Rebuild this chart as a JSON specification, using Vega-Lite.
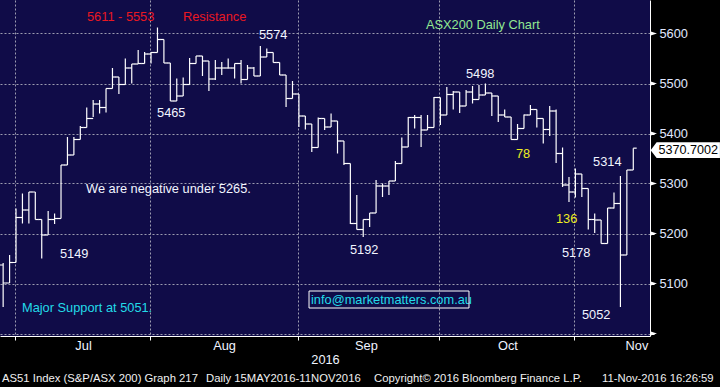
{
  "$schema": "https://vega.github.io/schema/vega-lite/v6.json",
  "width": 650,
  "height": 336,
  "autosize": {"type": "none"},
  "padding": {"left": 0, "top": 0, "right": 70, "bottom": 51},
  "background": "#000000",
  "config": {
    "view": {"stroke": null, "fill": "#100c48"},
    "font": "Liberation Sans"
  },
  "datasets": {
    "ohlc": [
      {"day": -2, "date": "2016-06-28", "open": 5137, "high": 5141, "low": 5053, "close": 5101},
      {"day": -1, "date": "2016-06-29", "open": 5101, "high": 5157, "low": 5101, "close": 5142},
      {"day": 0, "date": "2016-06-30", "open": 5142, "high": 5250, "low": 5142, "close": 5232},
      {"day": 1, "date": "2016-07-01", "open": 5232, "high": 5280, "low": 5220, "close": 5247},
      {"day": 2, "date": "2016-07-04", "open": 5247, "high": 5283, "low": 5220, "close": 5283},
      {"day": 3, "date": "2016-07-05", "open": 5283, "high": 5283, "low": 5228, "close": 5228},
      {"day": 4, "date": "2016-07-06", "open": 5228, "high": 5228, "low": 5150, "close": 5197},
      {"day": 5, "date": "2016-07-07", "open": 5197, "high": 5245, "low": 5197, "close": 5228},
      {"day": 6, "date": "2016-07-08", "open": 5228, "high": 5240, "low": 5219, "close": 5230},
      {"day": 7, "date": "2016-07-11", "open": 5230, "high": 5337, "low": 5230, "close": 5337},
      {"day": 8, "date": "2016-07-12", "open": 5337, "high": 5393, "low": 5337, "close": 5357},
      {"day": 9, "date": "2016-07-13", "open": 5357, "high": 5393, "low": 5357, "close": 5388},
      {"day": 10, "date": "2016-07-14", "open": 5388, "high": 5415, "low": 5388, "close": 5412},
      {"day": 11, "date": "2016-07-15", "open": 5412, "high": 5452, "low": 5412, "close": 5430},
      {"day": 12, "date": "2016-07-18", "open": 5430, "high": 5467, "low": 5433, "close": 5459},
      {"day": 13, "date": "2016-07-19", "open": 5459, "high": 5467, "low": 5440, "close": 5452},
      {"day": 14, "date": "2016-07-20", "open": 5452, "high": 5490, "low": 5442, "close": 5490},
      {"day": 15, "date": "2016-07-21", "open": 5490, "high": 5531, "low": 5490, "close": 5513},
      {"day": 16, "date": "2016-07-22", "open": 5513, "high": 5513, "low": 5479, "close": 5498},
      {"day": 17, "date": "2016-07-25", "open": 5498, "high": 5550, "low": 5498, "close": 5531},
      {"day": 18, "date": "2016-07-26", "open": 5531, "high": 5539, "low": 5500, "close": 5539},
      {"day": 19, "date": "2016-07-27", "open": 5539, "high": 5567, "low": 5539, "close": 5540},
      {"day": 20, "date": "2016-07-28", "open": 5540, "high": 5563, "low": 5540, "close": 5559},
      {"day": 21, "date": "2016-07-29", "open": 5559, "high": 5563, "low": 5540, "close": 5562},
      {"day": 22, "date": "2016-08-01", "open": 5562, "high": 5612, "low": 5562, "close": 5588},
      {"day": 23, "date": "2016-08-02", "open": 5588, "high": 5588, "low": 5541, "close": 5541},
      {"day": 24, "date": "2016-08-03", "open": 5541, "high": 5541, "low": 5465, "close": 5465},
      {"day": 25, "date": "2016-08-04", "open": 5465, "high": 5510, "low": 5465, "close": 5475},
      {"day": 26, "date": "2016-08-05", "open": 5475, "high": 5512, "low": 5475, "close": 5498},
      {"day": 27, "date": "2016-08-08", "open": 5498, "high": 5551, "low": 5498, "close": 5540},
      {"day": 28, "date": "2016-08-09", "open": 5540, "high": 5555, "low": 5540, "close": 5555},
      {"day": 29, "date": "2016-08-10", "open": 5555, "high": 5555, "low": 5515, "close": 5545},
      {"day": 30, "date": "2016-08-11", "open": 5545, "high": 5545, "low": 5485, "close": 5509},
      {"day": 31, "date": "2016-08-12", "open": 5509, "high": 5547, "low": 5507, "close": 5531},
      {"day": 32, "date": "2016-08-15", "open": 5531, "high": 5543, "low": 5517, "close": 5531},
      {"day": 33, "date": "2016-08-16", "open": 5531, "high": 5550, "low": 5530, "close": 5531},
      {"day": 34, "date": "2016-08-17", "open": 5531, "high": 5540, "low": 5510, "close": 5540},
      {"day": 35, "date": "2016-08-18", "open": 5540, "high": 5547, "low": 5500, "close": 5508},
      {"day": 36, "date": "2016-08-19", "open": 5508, "high": 5537, "low": 5508, "close": 5531},
      {"day": 37, "date": "2016-08-22", "open": 5531, "high": 5533, "low": 5515, "close": 5515},
      {"day": 38, "date": "2016-08-23", "open": 5515, "high": 5575, "low": 5515, "close": 5553},
      {"day": 39, "date": "2016-08-24", "open": 5553, "high": 5570, "low": 5553, "close": 5562},
      {"day": 40, "date": "2016-08-25", "open": 5562, "high": 5562, "low": 5542, "close": 5542},
      {"day": 41, "date": "2016-08-26", "open": 5542, "high": 5542, "low": 5517, "close": 5517},
      {"day": 42, "date": "2016-08-29", "open": 5517, "high": 5517, "low": 5453, "close": 5470},
      {"day": 43, "date": "2016-08-30", "open": 5470, "high": 5505, "low": 5470, "close": 5479},
      {"day": 44, "date": "2016-08-31", "open": 5479, "high": 5479, "low": 5413, "close": 5435},
      {"day": 45, "date": "2016-09-01", "open": 5435, "high": 5435, "low": 5408, "close": 5419},
      {"day": 46, "date": "2016-09-02", "open": 5419, "high": 5419, "low": 5363, "close": 5372},
      {"day": 47, "date": "2016-09-05", "open": 5372, "high": 5432, "low": 5372, "close": 5430},
      {"day": 48, "date": "2016-09-06", "open": 5430, "high": 5430, "low": 5407, "close": 5413},
      {"day": 49, "date": "2016-09-07", "open": 5413, "high": 5440, "low": 5413, "close": 5425},
      {"day": 50, "date": "2016-09-08", "open": 5425, "high": 5425, "low": 5360, "close": 5385},
      {"day": 51, "date": "2016-09-09", "open": 5385, "high": 5385, "low": 5337, "close": 5340},
      {"day": 52, "date": "2016-09-12", "open": 5340, "high": 5340, "low": 5219, "close": 5220},
      {"day": 53, "date": "2016-09-13", "open": 5220, "high": 5277, "low": 5208, "close": 5208},
      {"day": 54, "date": "2016-09-14", "open": 5208, "high": 5228, "low": 5193, "close": 5228},
      {"day": 55, "date": "2016-09-15", "open": 5228, "high": 5241, "low": 5213, "close": 5241},
      {"day": 56, "date": "2016-09-16", "open": 5241, "high": 5307, "low": 5241, "close": 5295},
      {"day": 57, "date": "2016-09-19", "open": 5295, "high": 5300, "low": 5273, "close": 5295},
      {"day": 58, "date": "2016-09-20", "open": 5295, "high": 5305, "low": 5277, "close": 5305},
      {"day": 59, "date": "2016-09-21", "open": 5305, "high": 5345, "low": 5305, "close": 5340},
      {"day": 60, "date": "2016-09-22", "open": 5340, "high": 5392, "low": 5340, "close": 5373},
      {"day": 61, "date": "2016-09-23", "open": 5373, "high": 5433, "low": 5373, "close": 5432},
      {"day": 62, "date": "2016-09-26", "open": 5432, "high": 5437, "low": 5410, "close": 5432},
      {"day": 63, "date": "2016-09-27", "open": 5432, "high": 5437, "low": 5373, "close": 5407},
      {"day": 64, "date": "2016-09-28", "open": 5407, "high": 5437, "low": 5407, "close": 5412},
      {"day": 65, "date": "2016-09-29", "open": 5412, "high": 5473, "low": 5412, "close": 5472},
      {"day": 66, "date": "2016-09-30", "open": 5472, "high": 5472, "low": 5417, "close": 5437},
      {"day": 67, "date": "2016-10-03", "open": 5437, "high": 5493, "low": 5437, "close": 5478},
      {"day": 68, "date": "2016-10-04", "open": 5478, "high": 5485, "low": 5448, "close": 5483},
      {"day": 69, "date": "2016-10-05", "open": 5483, "high": 5483, "low": 5441, "close": 5455},
      {"day": 70, "date": "2016-10-06", "open": 5455, "high": 5487, "low": 5455, "close": 5483},
      {"day": 71, "date": "2016-10-07", "open": 5483, "high": 5495, "low": 5460, "close": 5468},
      {"day": 72, "date": "2016-10-10", "open": 5468, "high": 5497, "low": 5468, "close": 5477},
      {"day": 73, "date": "2016-10-11", "open": 5477, "high": 5500, "low": 5477, "close": 5481},
      {"day": 74, "date": "2016-10-12", "open": 5481, "high": 5481, "low": 5435, "close": 5475},
      {"day": 75, "date": "2016-10-13", "open": 5475, "high": 5475, "low": 5423, "close": 5437},
      {"day": 76, "date": "2016-10-14", "open": 5437, "high": 5448, "low": 5433, "close": 5433},
      {"day": 77, "date": "2016-10-17", "open": 5433, "high": 5433, "low": 5388, "close": 5388},
      {"day": 78, "date": "2016-10-18", "open": 5388, "high": 5419, "low": 5388, "close": 5410},
      {"day": 79, "date": "2016-10-19", "open": 5410, "high": 5438, "low": 5410, "close": 5437},
      {"day": 80, "date": "2016-10-20", "open": 5437, "high": 5457, "low": 5437, "close": 5448},
      {"day": 81, "date": "2016-10-21", "open": 5448, "high": 5448, "low": 5412, "close": 5430},
      {"day": 82, "date": "2016-10-24", "open": 5430, "high": 5430, "low": 5380, "close": 5408},
      {"day": 83, "date": "2016-10-25", "open": 5408, "high": 5455, "low": 5395, "close": 5445},
      {"day": 84, "date": "2016-10-26", "open": 5445, "high": 5448, "low": 5341, "close": 5360},
      {"day": 85, "date": "2016-10-27", "open": 5360, "high": 5372, "low": 5293, "close": 5297},
      {"day": 86, "date": "2016-10-28", "open": 5297, "high": 5313, "low": 5263, "close": 5283},
      {"day": 87, "date": "2016-10-31", "open": 5283, "high": 5330, "low": 5272, "close": 5319},
      {"day": 88, "date": "2016-11-01", "open": 5319, "high": 5319, "low": 5273, "close": 5290},
      {"day": 89, "date": "2016-11-02", "open": 5290, "high": 5290, "low": 5208, "close": 5228},
      {"day": 90, "date": "2016-11-03", "open": 5228, "high": 5240, "low": 5201, "close": 5227},
      {"day": 91, "date": "2016-11-04", "open": 5227, "high": 5227, "low": 5180, "close": 5180},
      {"day": 92, "date": "2016-11-07", "open": 5180, "high": 5251, "low": 5180, "close": 5251},
      {"day": 93, "date": "2016-11-08", "open": 5251, "high": 5282, "low": 5250, "close": 5260},
      {"day": 94, "date": "2016-11-09", "open": 5260, "high": 5315, "low": 5053, "close": 5157},
      {"day": 95, "date": "2016-11-10", "open": 5157, "high": 5327, "low": 5157, "close": 5327},
      {"day": 96, "date": "2016-11-11", "open": 5327, "high": 5370.7, "low": 5327, "close": 5370.7}
    ],
    "notes": [
      {"day": 11.04, "level": 5633, "text": "5611 - 5553", "kind": "resistance"},
      {"day": 25.97, "level": 5633, "text": "Resistance", "kind": "resistance"},
      {"day": 37.79, "level": 5597, "text": "5574", "kind": "level"},
      {"day": 63.76, "level": 5617, "text": "ASX200 Daily Chart", "kind": "heading"},
      {"day": 21.93, "level": 5441, "text": "5465", "kind": "level"},
      {"day": 69.98, "level": 5520, "text": "5498", "kind": "level"},
      {"day": 77.76, "level": 5359, "text": "78", "kind": "move"},
      {"day": 89.74, "level": 5344, "text": "5314", "kind": "level"},
      {"day": 10.89, "level": 5289, "text": "We are negative under 5265.", "kind": "level"},
      {"day": 6.84, "level": 5159, "text": "5149", "kind": "level"},
      {"day": 51.94, "level": 5167, "text": "5192", "kind": "level"},
      {"day": 83.98, "level": 5229, "text": "136", "kind": "move"},
      {"day": 84.91, "level": 5161, "text": "5178", "kind": "level"},
      {"day": 88.02, "level": 5037, "text": "5052", "kind": "level"},
      {"day": 0.93, "level": 5051, "text": "Major Support at 5051.", "kind": "support"},
      {"day": 45.88, "level": 5067, "text": "info@marketmatters.com.au", "kind": "support"}
    ],
    "footer": [
      {"day": -2.18, "level": 4909, "text": "AS51 Index (S&P/ASX 200) Graph 217"},
      {"day": 29.55, "level": 4909, "text": "Daily 15MAY2016-11NOV2016"},
      {"day": 55.68, "level": 4909, "text": "Copyright© 2016 Bloomberg Finance L.P."},
      {"day": 91.14, "level": 4909, "text": "11-Nov-2016 16:26:59"}
    ]
  },
  "layer": [
    {
      "data": {"name": "ohlc"},
      "mark": {"type": "rule", "color": "#ffffff", "strokeWidth": 1.2},
      "encoding": {
        "x": {
          "field": "day", "type": "quantitative",
          "scale": {"domain": [-2.49, 98.6], "nice": false, "zero": false},
          "axis": {
            "title": "2016",
            "values": [-0.15, 20.85, 43.85, 65.85, 86.85],
            "labelExpr": "datum.value < 10 ? 'Jul' : datum.value < 30 ? 'Aug' : datum.value < 50 ? 'Sep' : datum.value < 70 ? 'Oct' : 'Nov'",
            "labelOffset": {"condition": [{"test": "datum.value > 10 && datum.value < 30", "value": 74}, {"test": "datum.value > 80", "value": 62}], "value": 68},
            "grid": true, "gridColor": "#9c9cb0", "gridDash": [2, 2], "gridWidth": 1,
            "domainColor": "#ffffff", "tickColor": "#ffffff", "tickSize": 4,
            "labelColor": "#f0f4ff", "labelFont": "Liberation Sans", "labelFontSize": 12.8, "labelPadding": -1,
            "labelFlush": false, "labelOverlap": false, "labelBound": false,
            "titleColor": "#f0f4ff", "titleFont": "Liberation Sans", "titleFontSize": 12.8, "titleFontWeight": "normal", "titlePadding": 2
          }
        },
        "y": {
          "field": "low", "type": "quantitative",
          "scale": {"domain": [4995, 5667], "nice": false, "zero": false},
          "axis": {
            "orient": "right", "title": null,
            "values": [5000, 5050, 5100, 5150, 5200, 5250, 5300, 5350, 5400, 5450, 5500, 5550, 5600, 5650],
            "format": "d",
            "labelExpr": "datum.value % 100 == 0 && datum.value > 5000 ? datum.label : ''",
            "grid": true, "gridColor": "#9c9cb0", "gridDash": [2, 2], "gridWidth": 1,
            "gridOpacity": {"condition": {"test": "datum.value % 100 == 0", "value": 1}, "value": 0},
            "domainColor": "#ffffff", "tickColor": "#ffffff", "tickSize": 4,
            "labelColor": "#e0e8ff", "labelFont": "Liberation Sans", "labelFontSize": 12.8, "labelPadding": 5,
            "labelFlush": false, "labelOverlap": false, "labelBound": false
          }
        },
        "y2": {"field": "high"}
      }
    },
    {
      "data": {"name": "ohlc"},
      "mark": {"type": "tick", "orient": "horizontal", "color": "#ffffff", "size": 3.4, "thickness": 1.2, "xOffset": -1.7, "opacity": 1},
      "encoding": {
        "x": {"field": "day", "type": "quantitative", "title": "2016"},
        "y": {"field": "open", "type": "quantitative", "title": null}
      }
    },
    {
      "data": {"name": "ohlc"},
      "mark": {"type": "tick", "orient": "horizontal", "color": "#ffffff", "size": 3.4, "thickness": 1.2, "xOffset": 1.7, "opacity": 1},
      "encoding": {
        "x": {"field": "day", "type": "quantitative", "title": "2016"},
        "y": {"field": "close", "type": "quantitative", "title": null}
      }
    },
    {
      "data": {"name": "notes"},
      "mark": {"type": "text", "align": "left", "baseline": "middle", "font": "Liberation Sans", "fontSize": 12.8},
      "encoding": {
        "x": {"field": "day", "type": "quantitative", "title": "2016"},
        "y": {"field": "level", "type": "quantitative", "title": null},
        "text": {"field": "text"},
        "color": {
          "field": "kind", "type": "nominal", "legend": null,
          "scale": {"domain": ["resistance", "level", "heading", "move", "support"], "range": ["#ea1822", "#f2f5ff", "#92e892", "#eeee22", "#22dbe8"]}
        }
      }
    },
    {
      "data": {"values": [{"box": "contact"}]},
      "mark": {"type": "rect", "filled": false, "fill": null, "stroke": "#ffffff", "strokeWidth": 1, "opacity": 1},
      "encoding": {
        "x": {"datum": 45.57, "type": "quantitative"},
        "x2": {"datum": 70.45},
        "y": {"datum": 5085, "type": "quantitative"},
        "y2": {"datum": 5051}
      }
    },
    {
      "data": {"name": "footer"},
      "mark": {"type": "text", "align": "left", "baseline": "middle", "font": "Liberation Sans", "fontSize": 11.3, "color": "#f0f0f0"},
      "encoding": {
        "x": {"field": "day", "type": "quantitative", "title": "2016"},
        "y": {"field": "level", "type": "quantitative", "title": null},
        "text": {"field": "text"}
      }
    },
    {
      "data": {"values": [{"level": 5000}, {"level": 5100}, {"level": 5200}, {"level": 5300}, {"level": 5400}, {"level": 5500}, {"level": 5600}]},
      "mark": {"type": "point", "shape": "M-1,-0.67L1,0L-1,0.67Z", "size": 49, "filled": true, "color": "#ffffff", "opacity": 1, "strokeWidth": 0},
      "encoding": {
        "x": {"datum": 99.14, "type": "quantitative"},
        "y": {"field": "level", "type": "quantitative", "title": null}
      }
    },
    {
      "data": {"values": [{"last": 5370.7002}]},
      "layer": [
        {
          "mark": {"type": "point", "shape": "M-1,0L-0.827,-0.23L1,-0.23L1,0.23L-0.827,0.23Z", "size": 4802, "filled": true, "color": "#ffffff", "opacity": 1, "strokeWidth": 0, "yOffset": 2},
          "encoding": {
            "x": {"datum": 104.09, "type": "quantitative"},
            "y": {"field": "last", "type": "quantitative", "title": null}
          }
        },
        {
          "mark": {"type": "text", "align": "center", "baseline": "middle", "font": "Liberation Sans", "fontSize": 12.6, "color": "#000000", "yOffset": 1.5},
          "encoding": {
            "x": {"datum": 104.55, "type": "quantitative"},
            "y": {"field": "last", "type": "quantitative", "title": null},
            "text": {"field": "last", "type": "quantitative", "format": ".4f"}
          }
        }
      ]
    }
  ]
}
